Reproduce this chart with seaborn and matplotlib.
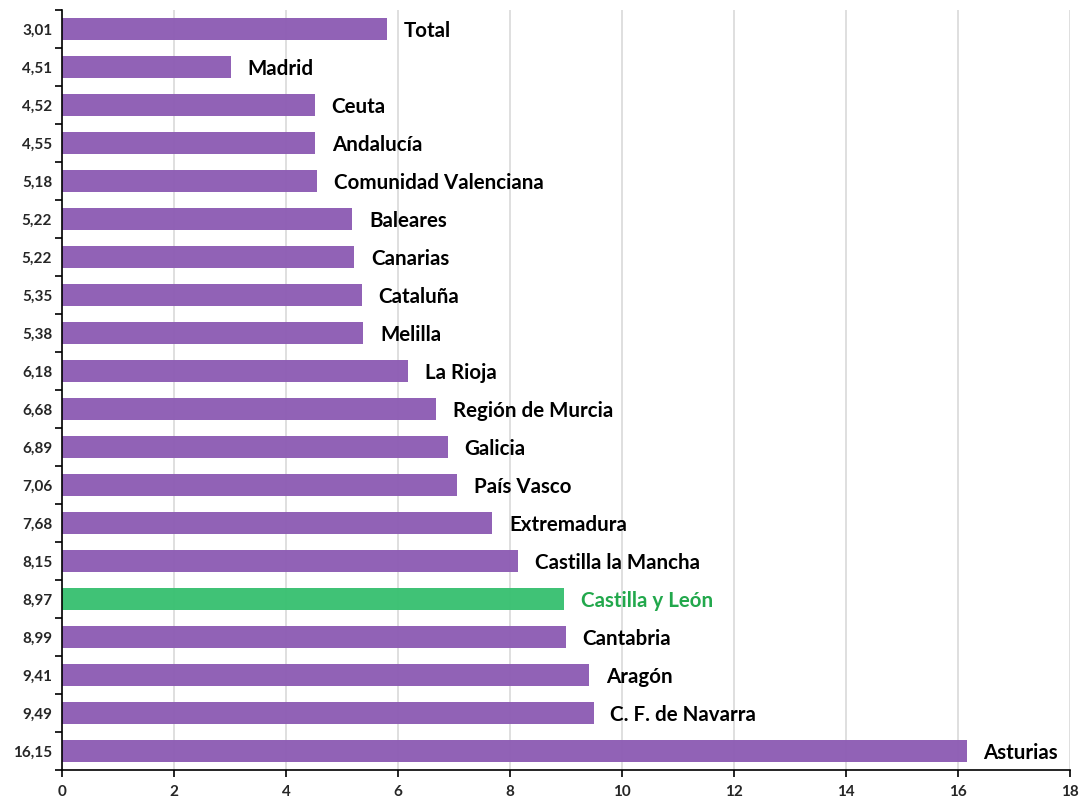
import numpy as np
import pandas as pd
import matplotlib
matplotlib.use('Agg')
import matplotlib.pyplot as plt
import seaborn as sns

# Data (top to bottom)
regions = ['Total', 'Madrid', 'Ceuta', 'Andalucía', 'Comunidad Valenciana', 'Baleares',
           'Canarias', 'Cataluña', 'Melilla', 'La Rioja', 'Región de Murcia', 'Galicia',
           'País Vasco', 'Extremadura', 'Castilla la Mancha', 'Castilla y León', 'Cantabria',
           'Aragón', 'C. F. de Navarra', 'Asturias']
values = [5.80, 3.01, 4.51, 4.52, 4.55, 5.18, 5.22, 5.35, 5.38, 6.18, 6.68, 6.89,
          7.06, 7.68, 8.15, 8.97, 8.99, 9.41, 9.49, 16.15]
tick_labels = ['3,01', '4,51', '4,52', '4,55', '5,18', '5,22', '5,22', '5,35', '5,38', '6,18',
               '6,68', '6,89', '7,06', '7,68', '8,15', '8,97', '8,99', '9,41', '9,49', '16,15']
highlight = 'Castilla y León'

purple = '#8E5DB4'
green = '#3AC072'

df = pd.DataFrame({'region': regions, 'value': values})
df['group'] = np.where(df.region == highlight, 'hl', 'base')

sns.set_style('white')
plt.rcParams['font.family'] = ['Lato', 'DejaVu Sans']

fig = plt.figure(figsize=(10.84, 8), dpi=100)
ax = fig.add_axes([0.0572, 0.0375, 0.93, 0.95])
ax.set_axisbelow(True)
ax.grid(axis='x', color='#d9d9d9', linewidth=1.2)

sns.barplot(data=df, y='region', x='value', hue='group', palette={'base': purple, 'hl': green},
            orient='h', width=0.58, dodge=False, legend=False, ax=ax, alpha=0.97, saturation=1,
            linewidth=0)

for i, (name, v) in enumerate(zip(regions, values)):
    col = '#22A84C' if name == highlight else 'black'
    ax.text(v + 0.3, i + 0.06, name, va='center', ha='left', fontsize=14.8, fontweight='bold', color=col)

ax.set_xlim(0, 18)
ax.set_ylim(len(regions) - 0.5, -0.5)
ax.set_xticks(range(0, 19, 2))
ax.set_yticks(range(len(regions)))
ax.set_yticklabels(tick_labels, fontsize=11, fontweight='bold')
ax.set_xticklabels([str(t) for t in range(0, 19, 2)], fontsize=11, fontweight='bold')
ax.set_yticks(np.arange(-0.5, len(regions)), minor=True)
ax.tick_params(axis='y', which='major', length=0, pad=7)
ax.tick_params(axis='y', which='minor', length=5, width=1.2, color='black', direction='out', left=True)
ax.tick_params(axis='x', which='major', length=5, width=1.2, color='black', direction='out', bottom=True, pad=6)
ax.set_xlabel('')
ax.set_ylabel('')

for s in ['top', 'right']:
    ax.spines[s].set_visible(False)
for s in ['left', 'bottom']:
    ax.spines[s].set_color('black')
    ax.spines[s].set_linewidth(1.2)

fig.savefig('out.png', dpi=100)
